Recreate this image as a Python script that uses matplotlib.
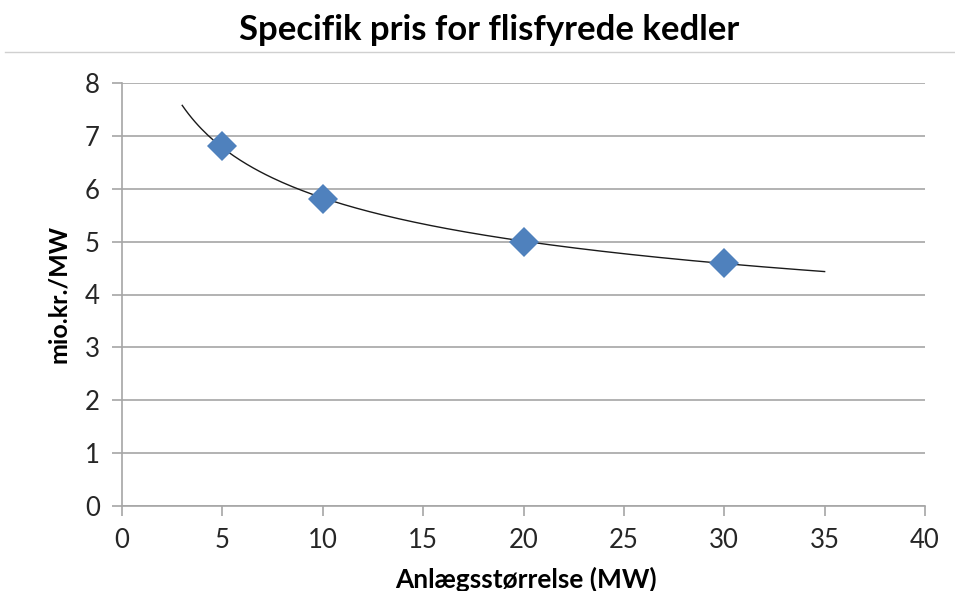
import numpy as np
import matplotlib.pyplot as plt
from matplotlib.lines import Line2D

plt.rcParams["font.family"] = ["Lato", "DejaVu Sans"]

# data
size_mw = [5, 10, 20, 30]
price = [6.8, 5.8, 5.0, 4.6]
trend_start, trend_end = 3, 35

# power trendline fitted to the points (as the spreadsheet does)
b, ln_a = np.polyfit(np.log(size_mw), np.log(price), 1)
xt = np.linspace(trend_start, trend_end, 200)
yt = np.exp(ln_a) * xt ** b

fig = plt.figure(figsize=(9.55, 5.91), dpi=100)
ax = fig.add_axes([122 / 955, 1 - 506 / 591, (925 - 122) / 955, (506 - 83) / 591])

grid_col = "#a6a6a6"
ax.set_xlim(0, 40)
ax.set_ylim(0, 8)
ax.set_xticks(range(0, 41, 5))
ax.set_yticks(range(0, 9))
ax.yaxis.grid(True, color=grid_col, lw=1.2)
ax.set_axisbelow(True)
for s in ["top", "right"]:
    ax.spines[s].set_visible(False)
for s in ["left", "bottom"]:
    ax.spines[s].set_color(grid_col)
    ax.spines[s].set_linewidth(1.2)
ax.tick_params(axis="both", colors=grid_col, length=7, width=1.2, labelsize=18.5,
               labelcolor="#262626")
ax.tick_params(axis="x", pad=9)
ax.tick_params(axis="y", pad=9)

ax.plot(xt, yt, color="#1a1a1a", lw=1.0, zorder=2)
ax.plot(size_mw, price, "D", color="#4f81bd", markersize=15.5, markeredgewidth=0, zorder=3)

ylab = fig.text(59 / 955, 1 - 294 / 591, "mio.kr./MW", rotation=90, ha="center", va="center",
                fontsize=17, fontweight="bold")
xlab = fig.text(526 / 955, 1 - 567 / 591, "Anlægsstørrelse (MW)", ha="center", va="top",
                fontsize=17, fontweight="bold")
title = fig.text(489 / 955, 1 - 30 / 591, "Specifik pris for flisfyrede kedler", ha="center",
                 va="center", fontsize=25, fontweight="bold")
fig.add_artist(Line2D([5 / 955, 1], [1 - 52 / 591, 1 - 52 / 591], color="#d0d0d0", lw=1,
                      transform=fig.transFigure))

# scale the text sizes so their lengths match the original
r = fig.canvas.get_renderer()
for t, target, horiz in [(title, 500, True), (xlab, 262, True), (ylab, 138, False)]:
    bb = t.get_window_extent(r)
    cur = bb.width if horiz else bb.height
    t.set_fontsize(t.get_fontsize() * target / cur)

fig.savefig("out.png", dpi=100)
